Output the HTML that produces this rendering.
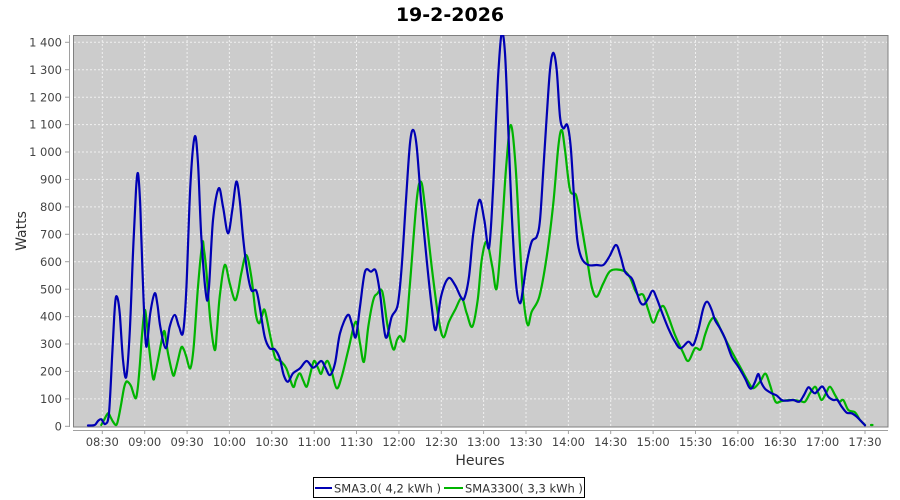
<!DOCTYPE html>
<html>
<head>
<meta charset="utf-8">
<style>
html,body{margin:0;padding:0;background:#fff;}
svg{display:block;}
text{font-family:"DejaVu Sans","Liberation Sans",sans-serif;}
</style>
</head>
<body>
<svg id="chart" width="900" height="500" viewBox="0 0 900 500" xmlns="http://www.w3.org/2000/svg">
<defs>
<clipPath id="pc"><rect x="73" y="35" width="815" height="392"/></clipPath>
</defs>
<rect x="0" y="0" width="900" height="500" fill="#fff"/>
<text x="450" y="21" text-anchor="middle" font-size="19" font-weight="bold" fill="#000">19-2-2026</text>

<rect x="73.5" y="35.5" width="814.5" height="391.5" fill="#cccccc" stroke="#808080" stroke-width="1"/>

<g stroke="#f0f0f0" stroke-width="1" stroke-dasharray="2,2" fill="none">
<line x1="74" x2="887" y1="398.9" y2="398.9"/>
<line x1="74" x2="887" y1="371.4" y2="371.4"/>
<line x1="74" x2="887" y1="344.0" y2="344.0"/>
<line x1="74" x2="887" y1="316.6" y2="316.6"/>
<line x1="74" x2="887" y1="289.2" y2="289.2"/>
<line x1="74" x2="887" y1="261.7" y2="261.7"/>
<line x1="74" x2="887" y1="234.3" y2="234.3"/>
<line x1="74" x2="887" y1="206.9" y2="206.9"/>
<line x1="74" x2="887" y1="179.4" y2="179.4"/>
<line x1="74" x2="887" y1="152.0" y2="152.0"/>
<line x1="74" x2="887" y1="124.6" y2="124.6"/>
<line x1="74" x2="887" y1="97.2" y2="97.2"/>
<line x1="74" x2="887" y1="69.7" y2="69.7"/>
<line x1="74" x2="887" y1="42.3" y2="42.3"/>
<line y1="36" y2="426" x1="102.3" x2="102.3"/>
<line y1="36" y2="426" x1="144.7" x2="144.7"/>
<line y1="36" y2="426" x1="187.1" x2="187.1"/>
<line y1="36" y2="426" x1="229.4" x2="229.4"/>
<line y1="36" y2="426" x1="271.8" x2="271.8"/>
<line y1="36" y2="426" x1="314.2" x2="314.2"/>
<line y1="36" y2="426" x1="356.5" x2="356.5"/>
<line y1="36" y2="426" x1="398.9" x2="398.9"/>
<line y1="36" y2="426" x1="441.3" x2="441.3"/>
<line y1="36" y2="426" x1="483.6" x2="483.6"/>
<line y1="36" y2="426" x1="526.0" x2="526.0"/>
<line y1="36" y2="426" x1="568.4" x2="568.4"/>
<line y1="36" y2="426" x1="610.7" x2="610.7"/>
<line y1="36" y2="426" x1="653.1" x2="653.1"/>
<line y1="36" y2="426" x1="695.5" x2="695.5"/>
<line y1="36" y2="426" x1="737.9" x2="737.9"/>
<line y1="36" y2="426" x1="780.2" x2="780.2"/>
<line y1="36" y2="426" x1="822.6" x2="822.6"/>
<line y1="36" y2="426" x1="865.0" x2="865.0"/>
</g>

<g id="series" clip-path="url(#pc)" fill="none" stroke-width="2.2" stroke-linejoin="round" stroke-linecap="round">
<polyline class="smooth" stroke="#00b400" points="101.3,425 104,420 108,413.3 110.5,417 113,421.7 116.3,425 118.5,418 121.3,403.3 124,388 126.3,381.7 129,383 131.3,386.7 135.3,398.3 137.5,390 139.7,366.7 142,335 144.7,310 147,325 149,346.7 153,378.3 155.5,372 158,360 163.7,331.7 166,340 168,353.3 173,375 175.5,370 178,360 181.3,347.3 184,350 186.3,356.7 190.3,368.3 193.7,346.7 198,286.7 202.3,243.3 204,250 206.3,270 210.3,320 214.7,350 217,330 219.7,296.7 224.7,265 229.7,283.3 234.7,300 238,292 241.3,273.3 246.3,255 251.3,276.7 255.7,313.3 259,323.3 262,316 264.7,310 269.7,333.3 274.7,356.7 278,360 281.3,361.7 286.3,368.3 293,386.7 296,380 299.7,373.3 303,380 306.7,386.7 310,375 314,361 318,368 321,374 324,366 327.7,361 331.7,371.7 336.7,388.3 341.7,376.7 348.3,350 355.7,321.7 360,343.3 364,361.7 368.3,326.7 373.3,300 377,294 382.3,291.7 387.7,326.7 393.3,349.3 397,340 400,336 405,338.3 410,283.3 416.7,200 421,181.7 425,206.7 431.7,266.7 438.3,316.7 443.3,337.3 449,321.7 455,310 461.7,298.3 466.7,313.3 472.3,326.7 477.7,300 481.7,260 486.7,241.7 492.3,266.7 496.7,288.3 501.7,232 506.3,165 510.8,125 515.5,165 520,246.7 523.3,296.7 527.7,325 531.7,311.7 539.3,296.7 546.7,256.7 553.3,203.3 558.3,146.7 561.7,130 565,150 570,190 576,195 580,216.7 586.7,256.7 591.7,286.7 596.7,296.7 603.3,283.3 610.7,270.7 623.3,270.7 630,277.5 635,290 638.3,295 643.3,295 648.3,310 653.3,322.7 658.3,311.7 663.3,306 668.3,316.7 675,335 682.7,351.7 688.3,361 695,348.3 700.7,349.3 705,335 710,321.7 715,318.3 721.7,331.7 730,348.3 740,366.7 748.3,382 753.3,388.3 760,381.7 765.4,373.7 770,385 774,398.3 776.7,402.7 781.7,401 791.7,400 800,401 805,401.7 810,393.3 815,386.7 818.3,393.3 821.7,400 826,393.3 830,386.7 835,395 839.3,401.7 843.3,400 848.3,410 855,412.3 860,420 865,425"/>
<line x1="871" y1="425" x2="872.5" y2="425" stroke="#00b400"/>
<polyline class="smooth" stroke="#0000b4" points="88,425.5 94.7,425 98,421 101.3,419.3 105.3,424 109,413 112.3,353 115,305 117,296.7 119.7,313 123,360 126.3,376.7 129.7,333 133,253 136,190 138,173.3 140,200 141.3,236.7 143.7,303 146.3,346.7 150.3,313 154.7,293.3 157.5,305 160.3,326.7 165.7,348.3 169.7,326.7 174.7,315 179,326.7 183,332.7 186.3,290 190.3,186.7 194.7,136.7 198,163.3 201.3,236.7 206.3,296.7 209,286.7 213,220 218.7,188.3 223,206.7 228,233.3 232.3,210 236.3,181.7 239.7,200 243,236.7 247,270 251.3,290 256.3,290.7 259.7,306.7 264.7,336.7 269.7,348.3 274.7,349.3 279.7,358.3 283.7,375 288,381.7 293,373.3 300,368.3 306.7,361 313.3,367.7 321,361 325,366.7 330,375 335,363.3 340,333.3 347.7,315 351.7,323.3 355.7,337.3 360,306.7 365,271.7 371,271.7 375.7,270.7 380,293.3 385.7,337.3 391.7,316.7 397.7,305 401.7,266.7 406,200 410,143.3 413.3,130 416.7,146.7 421,200 426.7,260 431.7,306.7 435.7,330 441,296.7 448.3,278.3 455,285 460.7,296.7 464.3,298.3 469,276.7 473.3,233.3 479.3,200 484.3,220 489,248 493,190 496,120 498.5,70 501.7,33 505,53.3 508.3,130 511.7,213.3 516,283.3 520,303.3 523.3,286.7 526.7,263.3 531.7,241.7 536.7,236.7 540,220 543.3,170 546.7,116.7 550,70 553.3,52.7 556.7,70 560,116.7 563.3,128.3 567.3,125 570.7,146.7 574,196.7 577.3,240 581.7,258.3 588.3,265 596.7,265 603.3,265 609.3,256.7 616,245 620.7,256.7 625,271.7 631.7,278.3 635,286.7 640,301.7 644,304.3 648.3,298.3 652.7,290.7 656.7,298.3 661.7,311.7 668.3,328.3 675,341.7 680.7,348.3 688.3,341.7 693.3,345 698.3,330 703.3,308.3 707.3,301.7 711.7,310 715,320 720,328.3 725,338.3 731.7,356.7 738.3,366.7 745,378.3 749,387 751.7,388.3 755,382 758.3,374 761,382 765,388.7 771.7,393.3 776.7,395.5 781.7,400 786.7,400.7 793.3,400 799.3,401.7 804,395 808.3,387.3 812,391 815,393.3 818.5,390 822.7,386.7 828.3,396.7 833.3,400 837.3,400 841.7,406.7 846.7,412.7 851.7,413.3 856.7,416.7 865,425.3"/>
</g>

<!-- Y axis -->
<g stroke="#a0a0a0" stroke-width="1">
<line x1="69.5" y1="35" x2="69.5" y2="427"/>
<line x1="65" x2="69.5" y1="426.3" y2="426.3"/>
<line x1="65" x2="69.5" y1="398.9" y2="398.9"/>
<line x1="65" x2="69.5" y1="371.4" y2="371.4"/>
<line x1="65" x2="69.5" y1="344.0" y2="344.0"/>
<line x1="65" x2="69.5" y1="316.6" y2="316.6"/>
<line x1="65" x2="69.5" y1="289.2" y2="289.2"/>
<line x1="65" x2="69.5" y1="261.7" y2="261.7"/>
<line x1="65" x2="69.5" y1="234.3" y2="234.3"/>
<line x1="65" x2="69.5" y1="206.9" y2="206.9"/>
<line x1="65" x2="69.5" y1="179.4" y2="179.4"/>
<line x1="65" x2="69.5" y1="152.0" y2="152.0"/>
<line x1="65" x2="69.5" y1="124.6" y2="124.6"/>
<line x1="65" x2="69.5" y1="97.2" y2="97.2"/>
<line x1="65" x2="69.5" y1="69.7" y2="69.7"/>
<line x1="65" x2="69.5" y1="42.3" y2="42.3"/>
</g>
<g font-size="11.5" fill="#444" text-anchor="end">
<text x="62" y="430.5">0</text>
<text x="62" y="403">100</text>
<text x="62" y="375.5">200</text>
<text x="62" y="348">300</text>
<text x="62" y="320.7">400</text>
<text x="62" y="293.3">500</text>
<text x="62" y="265.8">600</text>
<text x="62" y="238.4">700</text>
<text x="62" y="211">800</text>
<text x="62" y="183.5">900</text>
<text x="62" y="156.1">1 000</text>
<text x="62" y="128.7">1 100</text>
<text x="62" y="101.3">1 200</text>
<text x="62" y="73.8">1 300</text>
<text x="62" y="46.4">1 400</text>
</g>
<text transform="translate(26,231) rotate(-90)" text-anchor="middle" font-size="14" fill="#333">Watts</text>

<!-- X axis -->
<g stroke="#a0a0a0" stroke-width="1">
<line x1="73" y1="430.5" x2="888" y2="430.5"/>
<line y1="430.5" y2="434" x1="102.3" x2="102.3"/>
<line y1="430.5" y2="434" x1="144.7" x2="144.7"/>
<line y1="430.5" y2="434" x1="187.1" x2="187.1"/>
<line y1="430.5" y2="434" x1="229.4" x2="229.4"/>
<line y1="430.5" y2="434" x1="271.8" x2="271.8"/>
<line y1="430.5" y2="434" x1="314.2" x2="314.2"/>
<line y1="430.5" y2="434" x1="356.5" x2="356.5"/>
<line y1="430.5" y2="434" x1="398.9" x2="398.9"/>
<line y1="430.5" y2="434" x1="441.3" x2="441.3"/>
<line y1="430.5" y2="434" x1="483.6" x2="483.6"/>
<line y1="430.5" y2="434" x1="526.0" x2="526.0"/>
<line y1="430.5" y2="434" x1="568.4" x2="568.4"/>
<line y1="430.5" y2="434" x1="610.7" x2="610.7"/>
<line y1="430.5" y2="434" x1="653.1" x2="653.1"/>
<line y1="430.5" y2="434" x1="695.5" x2="695.5"/>
<line y1="430.5" y2="434" x1="737.9" x2="737.9"/>
<line y1="430.5" y2="434" x1="780.2" x2="780.2"/>
<line y1="430.5" y2="434" x1="822.6" x2="822.6"/>
<line y1="430.5" y2="434" x1="865.0" x2="865.0"/>
</g>
<g font-size="11.5" fill="#444" text-anchor="middle">
<text x="102.3" y="446">08:30</text>
<text x="144.7" y="446">09:00</text>
<text x="187.1" y="446">09:30</text>
<text x="229.4" y="446">10:00</text>
<text x="271.8" y="446">10:30</text>
<text x="314.2" y="446">11:00</text>
<text x="356.5" y="446">11:30</text>
<text x="398.9" y="446">12:00</text>
<text x="441.3" y="446">12:30</text>
<text x="483.6" y="446">13:00</text>
<text x="526.0" y="446">13:30</text>
<text x="568.4" y="446">14:00</text>
<text x="610.7" y="446">14:30</text>
<text x="653.1" y="446">15:00</text>
<text x="695.5" y="446">15:30</text>
<text x="737.9" y="446">16:00</text>
<text x="780.2" y="446">16:30</text>
<text x="822.6" y="446">17:00</text>
<text x="865.0" y="446">17:30</text>
</g>
<text x="480" y="465" text-anchor="middle" font-size="14" fill="#333">Heures</text>

<!-- Legend -->
<rect x="313.5" y="477.5" width="271" height="20" fill="#fff" stroke="#000" stroke-width="1"/>
<line x1="315" y1="488" x2="332" y2="488" stroke="#0000b4" stroke-width="2"/>
<text x="334" y="492.5" font-size="11.5" fill="#333">SMA3.0( 4,2 kWh )</text>
<line x1="444" y1="488" x2="463" y2="488" stroke="#00b400" stroke-width="2"/>
<text x="465" y="492.5" font-size="11.5" fill="#333">SMA3300( 3,3 kWh )</text>
</svg>
<script>
(function(){
  var NS="http://www.w3.org/2000/svg";
  var pls=document.querySelectorAll("polyline.smooth");
  for(var i=0;i<pls.length;i++){
    var pl=pls[i];
    var raw=pl.getAttribute("points").trim().split(/\s+/);
    var p=[];
    for(var j=0;j<raw.length;j++){var c=raw[j].split(",");p.push([parseFloat(c[0]),parseFloat(c[1])]);}
    var d="M"+p[0][0]+","+p[0][1];
    for(var k=0;k<p.length-1;k++){
      var p0=p[k>0?k-1:0],p1=p[k],p2=p[k+1],p3=p[k+2<p.length?k+2:p.length-1];
      var c1x=p1[0]+(p2[0]-p0[0])/6,c1y=p1[1]+(p2[1]-p0[1])/6;
      var c2x=p2[0]-(p3[0]-p1[0])/6,c2y=p2[1]-(p3[1]-p1[1])/6;
      d+=" C"+c1x.toFixed(2)+","+c1y.toFixed(2)+" "+c2x.toFixed(2)+","+c2y.toFixed(2)+" "+p2[0]+","+p2[1];
    }
    var path=document.createElementNS(NS,"path");
    path.setAttribute("d",d);
    path.setAttribute("stroke",pl.getAttribute("stroke"));
    pl.parentNode.replaceChild(path,pl);
  }
})();
</script>
</body>
</html>
